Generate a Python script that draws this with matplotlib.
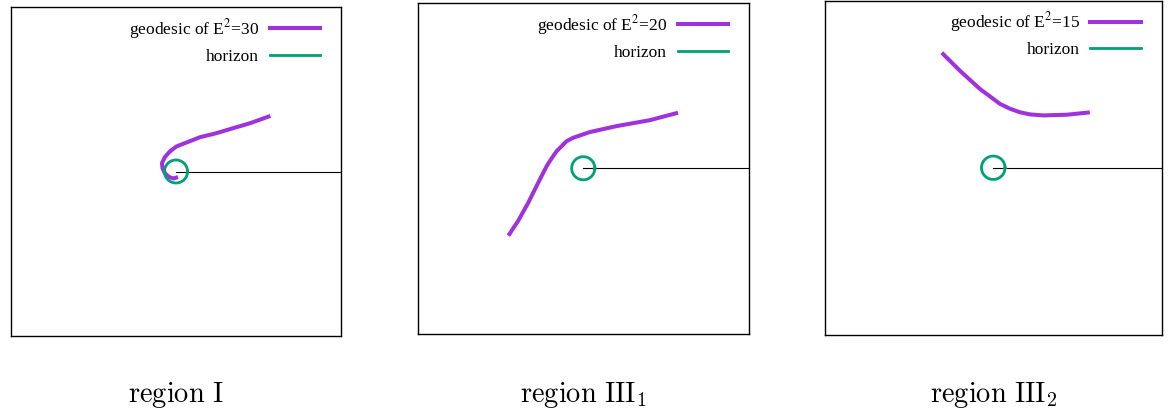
import numpy as np
import matplotlib
matplotlib.use("Agg")
import matplotlib.pyplot as plt
from matplotlib.lines import Line2D
from matplotlib.font_manager import FontProperties

plt.rcParams["mathtext.fontset"] = "cm"

# Plot window half-width (same in x and y) and horizon radius
half_width = 10.0
horizon_radius = 0.7

# Geodesic curves, one per region
energies = [30, 20, 15]
region_labels = [r"$\mathrm{region\ I}$", r"$\mathrm{region\ III}_1$", r"$\mathrm{region\ III}_2$"]

geo_I_x = [5.72, 4.47, 3.45, 2.45, 1.44, 0.63, 0.02, -0.38, -0.68, -0.85, -0.82, -0.68, -0.42, -0.14, 0.12]
geo_I_y = [3.38, 2.93, 2.63, 2.33, 2.08, 1.76, 1.52, 1.21, 0.87, 0.51, 0.21, -0.10, -0.34, -0.42, -0.34]

geo_III1_x = [5.72, 4.02, 2.01, 0.40, -0.60, -1.00, -1.30, -1.60, -1.81, -2.01, -2.20, -2.71, -3.31, -3.92, -4.52]
geo_III1_y = [3.36, 2.91, 2.55, 2.19, 1.85, 1.64, 1.34, 1.04, 0.74, 0.44, 0.14, -0.86, -2.07, -3.17, -4.08]

geo_III2_x = [-3.06, -1.98, -0.79, 0.40, 0.99, 1.58, 2.18, 2.97, 4.36, 5.74]
geo_III2_y = [6.88, 5.80, 4.71, 3.82, 3.53, 3.32, 3.19, 3.13, 3.17, 3.31]

geodesics = [(geo_I_x, geo_I_y), (geo_III1_x, geo_III1_y), (geo_III2_x, geo_III2_y)]

PURPLE = "#a032de"
GREEN = "#00a078"

W, H = 1172, 408
fig = plt.figure(figsize=(W / 100, H / 100), dpi=100)

# Panel boxes in pixels: left, top, right, bottom
boxes = [(11, 7, 341, 336), (417.5, 3, 749, 333.5), (825, 0.5, 1161.5, 335)]

legend_font = FontProperties(family="Liberation Serif", size=12.5, math_fontfamily="stix")

for (l, t, r, b), (gx, gy), e2, lab in zip(boxes, geodesics, energies, region_labels):
    ax = fig.add_axes([l / W, 1 - b / H, (r - l) / W, (b - t) / H])
    ax.set_xlim(-half_width, half_width)
    ax.set_ylim(-half_width, half_width)
    ax.set_xticks([])
    ax.set_yticks([])
    for s in ax.spines.values():
        s.set_linewidth(1.0)
        s.set_color("black")

    # Ray along the positive x axis
    ax.plot([0, half_width], [0, 0], color="black", lw=0.8, zorder=1)

    # Horizon
    th = np.linspace(0, 2 * np.pi, 200)
    ax.plot(horizon_radius * np.cos(th), horizon_radius * np.sin(th),
            color=GREEN, lw=2.0, zorder=3)

    # Geodesic
    ax.plot(gx, gy, color=PURPLE, lw=2.9, solid_capstyle="butt",
            solid_joinstyle="round", zorder=2)

    handles = [Line2D([], [], color=PURPLE, lw=2.9),
               Line2D([], [], color=GREEN, lw=2.0)]
    labels = [f"geodesic of E$^2$={e2}", "horizon"]
    ax.legend(handles, labels, loc="upper right", frameon=False,
              markerfirst=False, prop=legend_font, handlelength=2.9,
              handletextpad=0.6, labelspacing=0.43, borderpad=0,
              borderaxespad=0, bbox_to_anchor=(1 - 21 / (r - l), 1 - 10 / (b - t)))

    fig.text((l + r) / 2 / W, 6 / H, lab, ha="center", va="baseline", fontsize=20.5)

fig.savefig("out.png", dpi=100)
